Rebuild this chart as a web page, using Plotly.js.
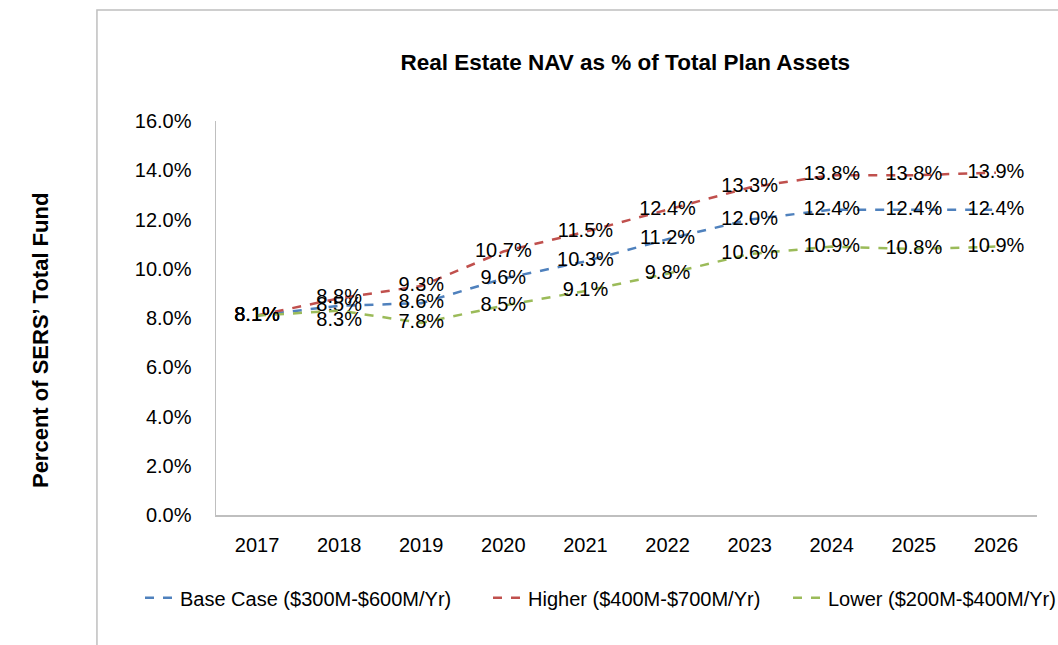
<!DOCTYPE html>
<html>
<head>
<meta charset="utf-8">
<script src="https://cdn.plot.ly/plotly-3.0.1.min.js"></script>
<style>
html,body{margin:0;padding:0;background:#fff;}
#chart{width:1058px;height:645px;}
</style>
</head>
<body>
<div id="chart"></div>
<script>
const years = ["2017","2018","2019","2020","2021","2022","2023","2024","2025","2026"];
const baseCase = [8.1, 8.5, 8.6, 9.6, 10.3, 11.2, 12.0, 12.4, 12.4, 12.4];
const higher = [8.1, 8.8, 9.3, 10.7, 11.5, 12.4, 13.3, 13.8, 13.8, 13.9];
const lower = [8.1, 8.3, 7.8, 8.5, 9.1, 9.8, 10.6, 10.9, 10.8, 10.9];
const seriesNames = ["Base Case ($300M-$600M/Yr)", "Higher ($400M-$700M/Yr)", "Lower ($200M-$400M/Yr)"];
const colors = ["#4f81bd", "#c0504d", "#9bbb59"];

const FONT = "Liberation Sans, Arial, sans-serif";
const legendIds = ["legend", "legend2", "legend3"];
const legendX = [-0.0926, 0.3313, 0.6967];

function mk(vals, i, positions) {
  return {
    x: years, y: vals, name: seriesNames[i], type: "scatter", mode: "lines+text",
    line: {color: colors[i], width: 2.5, dash: "dash"},
    texttemplate: "%{y:.1f}%",
    textposition: positions || "middle center",
    textfont: {family: FONT, size: 20, color: "#000"},
    cliponaxis: false,
    legend: legendIds[i],
    hoverinfo: "skip"
  };
}
const lowerPos = years.map((y, i) => i === 1 ? "bottom center" : "middle center");
const data = [mk(baseCase, 0), mk(higher, 1), mk(lower, 2, lowerPos)];

function legendCfg(i) {
  return {orientation: "h", x: legendX[i], xanchor: "left", y: -0.21, yanchor: "middle",
          font: {family: FONT, size: 20}, bgcolor: "rgba(0,0,0,0)", itemwidth: 30};
}

const layout = {
  width: 1058, height: 645,
  margin: {l: 216, r: 21, t: 121, b: 130, autoexpand: false},
  paper_bgcolor: "#fff", plot_bgcolor: "#fff",
  font: {family: FONT, size: 20, color: "#000"},
  title: {text: "<b>Real Estate NAV as % of Total Plan Assets</b>", font: {family: FONT, size: 22.5, color: "#000"},
          x: 0.591, xanchor: "center", y: 0.904, yanchor: "middle"},
  xaxis: {type: "category", showgrid: false, zeroline: false, showline: true, linecolor: "#bfbfbf", linewidth: 1.5,
          ticks: "", tickfont: {family: FONT, size: 20}, ticklabelstandoff: 11, range: [-0.5, 9.5], fixedrange: true,
          automargin: false},
  yaxis: {range: [0, 16], dtick: 2, tickformat: ".1f", ticksuffix: "%", showgrid: false, zeroline: false,
          showline: true, linecolor: "#bfbfbf", linewidth: 1.5, ticks: "", tickfont: {family: FONT, size: 20},
          ticklabelstandoff: 19, fixedrange: true, automargin: false},
  showlegend: true,
  legend: legendCfg(0),
  legend2: legendCfg(1),
  legend3: legendCfg(2),
  annotations: [{
    text: "<b>Percent of SERS\u2019 Total Fund</b>", xref: "paper", yref: "paper",
    x: -0.2144, y: 0.444, xanchor: "center", yanchor: "middle", textangle: -90, showarrow: false,
    font: {family: FONT, size: 22, color: "#000"}
  }],
  shapes: [{
    type: "rect", xref: "paper", yref: "paper", x0: -0.145, x1: 1.2, y0: -0.6, y1: 1.2817,
    line: {color: "#bfbfbf", width: 1.5}, fillcolor: "rgba(0,0,0,0)", layer: "below"
  }]
};

Plotly.newPlot("chart", data, layout, {displayModeBar: false, staticPlot: true});
</script>
</body>
</html>
